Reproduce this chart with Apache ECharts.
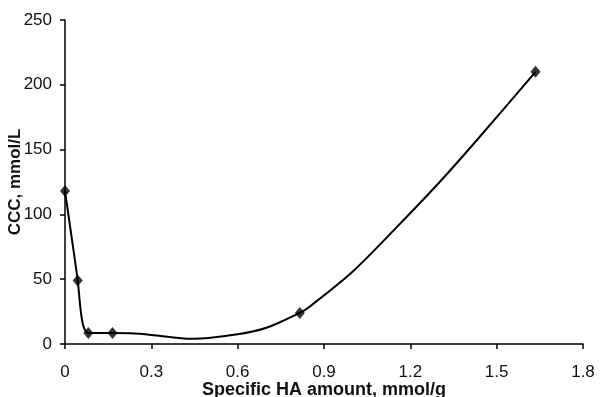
<!DOCTYPE html>
<html>
<head>
<meta charset="utf-8">
<script src="https://cdn.jsdelivr.net/npm/echarts@6/dist/echarts.min.js"></script>
<style>
  html, body { margin: 0; padding: 0; background: #ffffff; }
  #chart { width: 600px; height: 397px; }
</style>
</head>
<body>
<div id="chart"></div>
<script>
// Measured data points (marker positions)
const haAmount = [0, 0.044, 0.081, 0.165, 0.816, 1.635];
const cccValues = [118, 49, 8.5, 8.5, 24, 210];

// Smoothed curve
const curveX = [0, 0.022, 0.044, 0.055, 0.065, 0.081, 0.165, 0.226, 0.3, 0.44, 0.6, 0.7, 0.816, 0.851, 1.0, 1.152, 1.302, 1.43, 1.635];
const curveY = [118, 84, 49, 25, 13, 8.5, 8.5, 8.2, 7, 4, 7.5, 12.5, 24, 29, 56, 90, 125, 157, 210];

// Axis ticks
const xTicks = { min: 0, max: 1.8, interval: 0.3 };
const yTicks = { min: 0, max: 250, interval: 50 };

const xAxisTitle = 'Specific HA amount, mmol/g';
const yAxisTitle = 'CCC, mmol/L';

const chart = echarts.init(document.getElementById('chart'), null, { renderer: 'canvas' });

const axisLine = { show: true, lineStyle: { color: '#000', width: 1.5 } };
const axisTick = { show: true, inside: false, length: 5, lineStyle: { color: '#000', width: 1.5 } };
const labelStyle = { color: '#111', fontFamily: 'Liberation Sans, Arial, sans-serif', fontSize: 17 };
const nameStyle = { color: '#111', fontFamily: 'Liberation Sans, Arial, sans-serif', fontSize: 18, fontWeight: 'bold' };

chart.setOption({
  backgroundColor: '#ffffff',
  animation: false,
  grid: { left: 65, right: 17, top: 20, bottom: 53, containLabel: false, outerBoundsMode: 'none' },
  xAxis: {
    type: 'value',
    min: xTicks.min, max: xTicks.max, interval: xTicks.interval,
    name: xAxisTitle, nameLocation: 'middle', nameGap: 37, nameMoveOverlap: false,
    nameTextStyle: nameStyle,
    axisLine: axisLine, axisTick: axisTick,
    axisLabel: Object.assign({ margin: 20 }, labelStyle),
    splitLine: { show: false }
  },
  yAxis: {
    type: 'value',
    min: yTicks.min, max: yTicks.max, interval: yTicks.interval,
    name: yAxisTitle, nameLocation: 'middle', nameGap: 41, nameMoveOverlap: false,
    nameTextStyle: Object.assign({}, nameStyle, { fontSize: 17 }),
    axisLine: axisLine, axisTick: axisTick,
    axisLabel: Object.assign({ margin: 13 }, labelStyle),
    splitLine: { show: false }
  },
  series: [
    {
      type: 'line',
      data: curveX.map((x, i) => [x, curveY[i]]),
      smooth: 0.3,
      showSymbol: false,
      lineStyle: { color: '#000', width: 2 },
      z: 2
    },
    {
      type: 'scatter',
      data: haAmount.map((x, i) => [x, cccValues[i]]),
      symbol: 'diamond',
      symbolSize: [10, 12],
      itemStyle: { color: '#000' },
      z: 3
    }
  ]
});
</script>
</body>
</html>
